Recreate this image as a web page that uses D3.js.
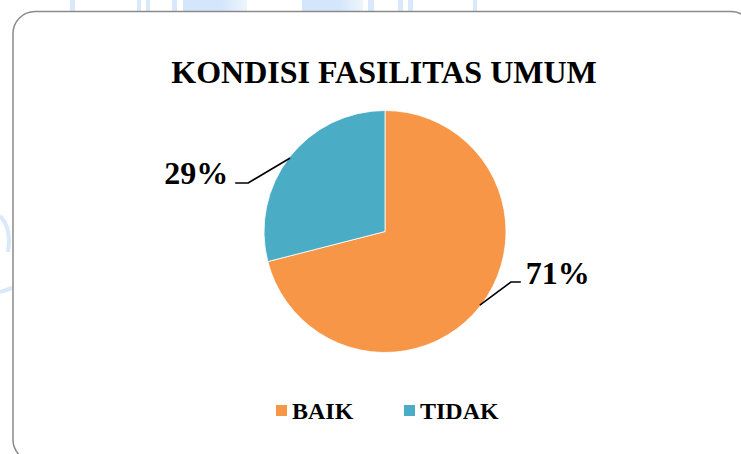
<!DOCTYPE html>
<html>
<head>
<meta charset="utf-8">
<script src="https://cdn.jsdelivr.net/npm/d3@7/dist/d3.min.js"></script>
<style>
  html, body { margin: 0; padding: 0; background: #fff; }
  svg { display: block; }
  text { font-family: "Liberation Serif", "Times New Roman", serif; font-weight: bold; fill: #000; }
</style>
</head>
<body>
<svg id="chart" width="741" height="454"></svg>
<script>
// Chart data
const title = "KONDISI FASILITAS UMUM";
const categories = ["BAIK", "TIDAK"];
const values = [71, 29];
const colors = ["#F79646", "#4BACC6"];

const svg = d3.select("#chart");
const W = 741, H = 454;

// faint background pattern behind the chart frame
const bg = svg.append("g").attr("fill", "#d9e9fb");
[[70, 5], [137, 4], [146, 4], [172, 5], [368, 6], [398, 5], [408, 5], [473, 4]].forEach(([x, w]) => {
  bg.append("rect").attr("x", x).attr("y", 0).attr("width", w).attr("height", 11);
});
const grad = svg.append("defs").append("linearGradient").attr("id", "band")
  .attr("x1", 0).attr("x2", 1);
grad.append("stop").attr("offset", 0).attr("stop-color", "#d3e6fb");
grad.append("stop").attr("offset", 0.6).attr("stop-color", "#d3e6fb");
grad.append("stop").attr("offset", 1).attr("stop-color", "#eef5fd");
bg.append("rect").attr("x", 183).attr("y", 0).attr("width", 64).attr("height", 11).attr("fill", "url(#band)");
bg.append("rect").attr("x", 302).attr("y", 0).attr("width", 61).attr("height", 11).attr("fill", "url(#band)");
svg.append("path").attr("d", "M0,216 Q12,228 8,252").attr("fill", "none")
  .attr("stroke", "#d9e9fb").attr("stroke-width", 4);
svg.append("path").attr("d", "M0,292 L12,288").attr("fill", "none")
  .attr("stroke", "#d9e9fb").attr("stroke-width", 4);

// chart frame
svg.append("rect")
  .attr("x", 13).attr("y", 11.5)
  .attr("width", 740).attr("height", 450)
  .attr("rx", 22).attr("ry", 22)
  .attr("fill", "#fff")
  .attr("stroke", "#8a8a8a").attr("stroke-width", 1.5);

// title
svg.append("text")
  .attr("x", 384).attr("y", 82.5)
  .attr("text-anchor", "middle")
  .attr("font-size", 32)
  .text(title);

// pie
const cx = 385, cy = 231.5, r = 121;
const data = categories.map((c, i) => ({ cat: c, value: values[i], color: colors[i] }));
const pie = d3.pie().sort(null).value(d => d.value);
const arc = d3.arc().innerRadius(0).outerRadius(r);
const arcs = pie(data);

const g = svg.append("g").attr("transform", `translate(${cx},${cy})`);
g.selectAll("path.slice")
  .data(arcs)
  .join("path")
  .attr("class", "slice")
  .attr("d", arc)
  .attr("fill", d => d.data.color)
  .attr("stroke", "#fff")
  .attr("stroke-width", 0.8);

// data labels with leader lines
const total = d3.sum(values);
const labelSpec = {
  BAIK:  { bend: [31, -23], end: [41, -23], anchor: "start", dx: 5, dy: 1.5 },
  TIDAK: { bend: [-42, 25], end: [-55, 25], anchor: "end", dx: -7, dy: 1.5 }
};
arcs.forEach(a => {
  const mid = (a.startAngle + a.endAngle) / 2;
  const ex = Math.sin(mid) * (r - 1), ey = -Math.cos(mid) * (r - 1);
  const s = labelSpec[a.data.cat];
  const bx = ex + s.bend[0], by = ey + s.bend[1];
  const lx = ex + s.end[0], ly = ey + s.end[1];
  g.append("path")
    .attr("d", `M${ex},${ey}L${bx},${by}L${lx},${ly}`)
    .attr("fill", "none").attr("stroke", "#000").attr("stroke-width", 1.6);
  g.append("text")
    .attr("x", lx + s.dx).attr("y", ly + s.dy)
    .attr("text-anchor", s.anchor)
    .attr("font-size", 32)
    .text(Math.round(a.data.value / total * 100) + "%");
});

// legend
const legendX = [276, 404];
const leg = svg.append("g");
data.forEach((d, i) => {
  const item = leg.append("g").attr("transform", `translate(${legendX[i]},0)`);
  item.append("rect").attr("x", 0).attr("y", 405).attr("width", 11).attr("height", 11).attr("fill", d.color);
  item.append("text").attr("x", 16).attr("y", 419).attr("font-size", 24).text(d.cat);
});
</script>
</body>
</html>
